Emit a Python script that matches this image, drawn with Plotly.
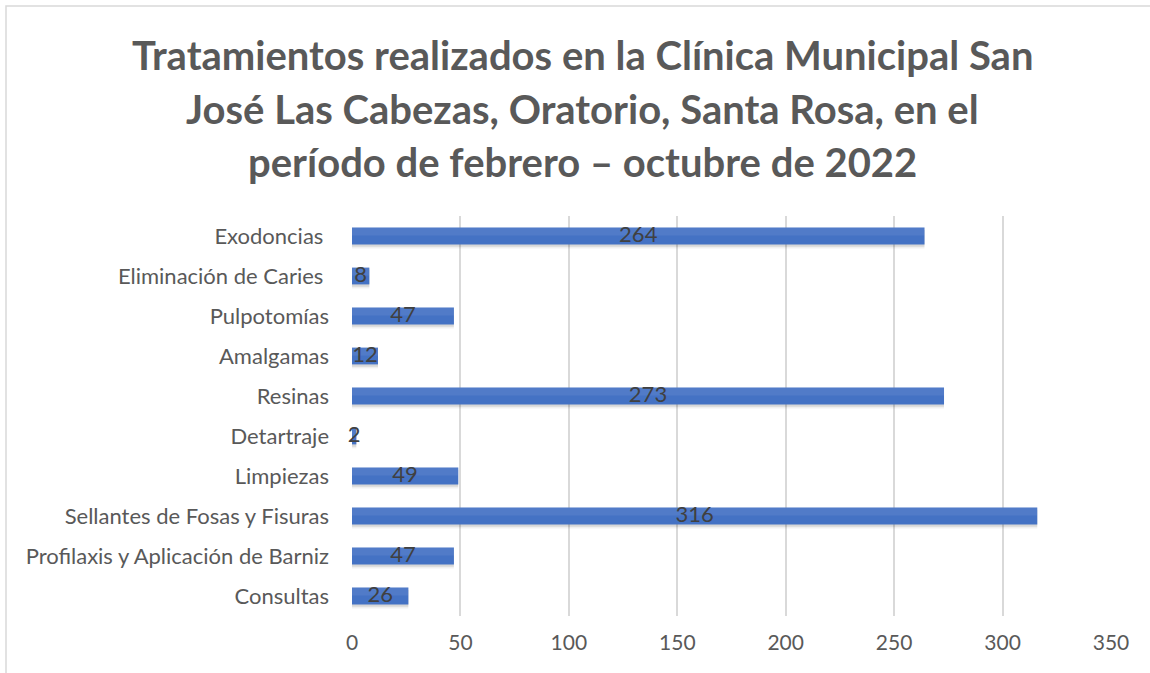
import plotly.graph_objects as go

categories = ["Exodoncias ", "Eliminación de Caries ", "Pulpotomías", "Amalgamas", "Resinas",
              "Detartraje", "Limpiezas", "Sellantes de Fosas y Fisuras",
              "Profilaxis y Aplicación de Barniz", "Consultas"]
values = [264, 8, 47, 12, 273, 2, 49, 316, 47, 26]
title_lines = ["Tratamientos realizados en la Clínica Municipal San",
               "José Las Cabezas, Oratorio, Santa Rosa, en el",
               "período de febrero – octubre de 2022"]
x_ticks = [0, 50, 100, 150, 200, 250, 300, 350]

FONT = "Lato"
W, H = 1150, 673
L, R, T, B = 352, 39, 216, 57
pw, ph = W - L - R, H - T - B

def px_x(p):
    return (p - L) / pw

def px_y(p):
    return (H - B - p) / ph

fig = go.Figure()

# soft shadow layers
fig.add_trace(go.Bar(
    y=categories, x=values, orientation="h", width=0.46, offset=-0.15,
    marker=dict(color="rgba(0,0,0,0.06)", line=dict(width=0)),
    hoverinfo="skip", showlegend=False))
fig.add_trace(go.Bar(
    y=categories, x=values, orientation="h", width=0.42, offset=-0.15,
    marker=dict(color="rgba(0,0,0,0.10)", line=dict(width=0)),
    hoverinfo="skip", showlegend=False))

fig.add_trace(go.Bar(
    y=categories, x=values, orientation="h", width=0.42,
    marker=dict(color="#4472c4", line=dict(width=0)),
    showlegend=False))
# subtle lighter top half (gradient look)
fig.add_trace(go.Bar(
    y=categories, x=values, orientation="h", width=0.2, offset=-0.21,
    marker=dict(color="rgba(255,255,255,0.07)", line=dict(width=0)),
    hoverinfo="skip", showlegend=False))

fig.add_trace(go.Scatter(
    y=categories, x=[v / 2 for v in values], mode="text",
    text=[str(v) for v in values], textposition="middle center",
    textfont=dict(family=FONT, size=22, color="#404040"),
    cliponaxis=False, hoverinfo="skip", showlegend=False))

title_y = [55, 109, 162]
for line, yy in zip(title_lines, title_y):
    fig.add_annotation(text="<b>%s</b>" % line, xref="paper", yref="paper",
                       x=px_x(582), y=px_y(yy), xanchor="center", yanchor="middle",
                       showarrow=False,
                       font=dict(family=FONT, size=40, color="#595959"))

fig.add_shape(type="rect", xref="paper", yref="paper",
              x0=px_x(6), x1=px_x(1160), y0=px_y(6), y1=px_y(690),
              line=dict(color="#d9d9d9", width=1.5), layer="below")

fig.update_layout(
    width=W, height=H,
    margin=dict(l=L, r=R, t=T, b=B),
    paper_bgcolor="white", plot_bgcolor="white",
    barmode="overlay",
    font=dict(family=FONT, color="#595959", size=22),
    xaxis=dict(range=[0, 350], tickvals=x_ticks, showgrid=True,
               gridcolor="#d9d9d9", gridwidth=1.5, zeroline=False,
               showline=False, ticks="", ticklabelstandoff=12,
               tickfont=dict(family=FONT, size=21, color="#595959")),
    yaxis=dict(autorange="reversed", showgrid=False, zeroline=False,
               showline=False, ticks="", ticklabelstandoff=22,
               tickfont=dict(family=FONT, size=22, color="#595959")),
)

fig.write_html("out.html", config={"displayModeBar": False},
               post_script="document.body.style.margin='0';")
